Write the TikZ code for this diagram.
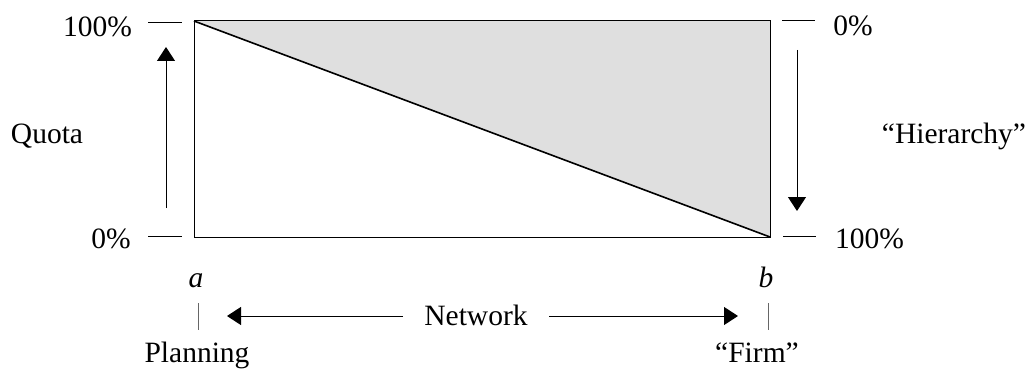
\documentclass[tikz,border=0pt]{standalone}
\usepackage{fontspec}
\setmainfont{Liberation Serif}
\usetikzlibrary{arrows.meta}
\definecolor{boxgray}{HTML}{DFDFDF}
\tikzset{
  lbl/.style={anchor=base,inner sep=0pt,font=\fontsize{29.5}{34}\selectfont},
  thin line/.style={line width=1pt,black},
  bigarrow/.style={line width=1pt,-{Triangle[width=18pt,length=14pt]}},
}
\begin{document}
\begin{tikzpicture}[x=1pt,y=-1pt]
\useasboundingbox (0,0) rectangle (1029,369);
% box corners
\coordinate (tl) at (194,21);
\coordinate (tr) at (770,21);
\coordinate (bl) at (194,237);
\coordinate (br) at (770,237);
\fill[boxgray] (tl) -- (tr) -- (br) -- cycle;
\draw[thin line] (tl) -- (tr) -- (br) -- (bl) -- cycle;
\draw[line width=1.6pt] (tl) -- (br);
% ticks
\coordinate (lt1) at (148,23); \coordinate (lt2) at (182,23);
\coordinate (lb1) at (148,236); \coordinate (lb2) at (182,236);
\coordinate (rt1) at (782,21); \coordinate (rt2) at (815,21);
\coordinate (rb1) at (783,236); \coordinate (rb2) at (816,236);
\draw[thin line] (lt1) -- (lt2);
\draw[thin line] (lb1) -- (lb2);
\draw[thin line] (rt1) -- (rt2);
\draw[thin line] (rb1) -- (rb2);
% vertical arrows
\coordinate (la1) at (166,208); \coordinate (la2) at (166,47);
\coordinate (ra1) at (797,50); \coordinate (ra2) at (797,211);
\draw[bigarrow] (la1) -- (la2);
\draw[bigarrow] (ra1) -- (ra2);
% labels
\node[lbl] (p100l) at (97.5,37) {100\%};
\node[lbl] (p0l) at (111,248) {0\%};
\node[lbl] (p0r) at (853,36) {0\%};
\node[lbl] (p100r) at (869.5,248) {100\%};
\node[lbl] (quota) at (47,143) {Quota};
\node[lbl] (hier) at (954,143) {``Hierarchy''};
\node[lbl] (a) at (196,287) {\itshape a};
\node[lbl] (b) at (766,287) {\itshape b};
\node[lbl] (net) at (476,325) {Network};
\node[lbl] (plan) at (197,362) {Planning};
\node[lbl] (firm) at (757,362) {``Firm''};
% small ticks under a and b
\coordinate (ta1) at (198,303); \coordinate (ta2) at (198,330);
\coordinate (tb1) at (768,303); \coordinate (tb2) at (768,330);
\draw[line width=1pt,black!60] (ta1) -- (ta2);
\draw[line width=1pt,black!60] (tb1) -- (tb2);
% network arrows
\coordinate (nl1) at (403,316); \coordinate (nl2) at (227,316);
\coordinate (nr1) at (549,316); \coordinate (nr2) at (738,316);
\draw[bigarrow] (nl1) -- (nl2);
\draw[bigarrow] (nr1) -- (nr2);
\end{tikzpicture}
\end{document}
